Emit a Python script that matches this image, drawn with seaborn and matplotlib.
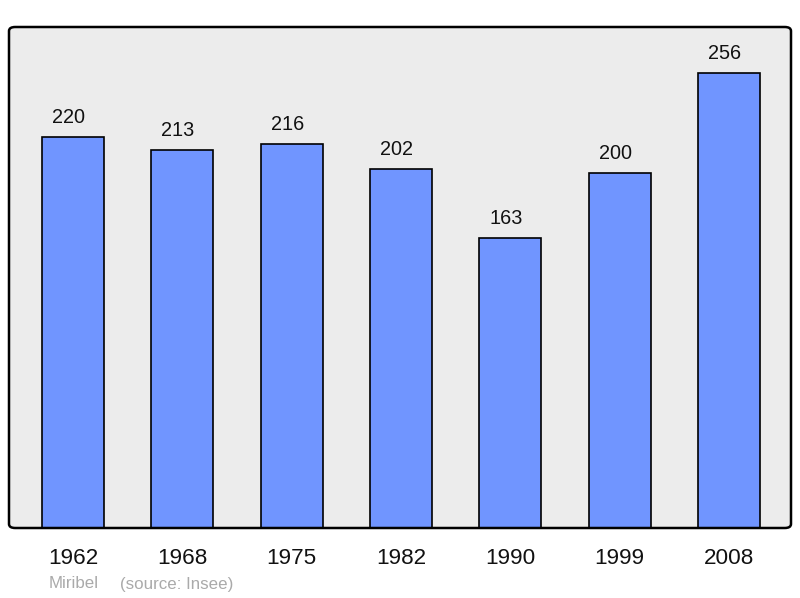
import matplotlib
matplotlib.use("Agg")
import matplotlib.pyplot as plt
import matplotlib.transforms as mtransforms
import seaborn as sns
import pandas as pd
from matplotlib.patches import FancyBboxPatch

years = ["1962", "1968", "1975", "1982", "1990", "1999", "2008"]
population = [220, 213, 216, 202, 163, 200, 256]

sns.set_style("white")
plt.rcParams['font.family'] = ['Liberation Sans', 'DejaVu Sans']

df = pd.DataFrame({"year": years, "pop": population})

fig = plt.figure(figsize=(8, 5.98), dpi=100)
ax = fig.add_axes([9/800, 70/598, 782/800, 501/598])
ax.set_facecolor("#ececec")

sns.barplot(data=df, x="year", y="pop", color="#7095ff", saturation=1,
            width=0.567, edgecolor="black", linewidth=1.2, ax=ax, zorder=2)

offset = mtransforms.ScaledTranslation(-4.5/100, 14/100, fig.dpi_scale_trans)
for i, v in enumerate(population):
    ax.text(i, v, str(v), ha="center", va="baseline", fontsize=14.3,
            color="#111111", transform=ax.transData + offset)

ax.set_xlim(-0.585, 6.567)
ax.set_ylim(0, 282)
ax.set_yticks([])
ax.set_xlabel("")
ax.set_ylabel("")
ax.tick_params(axis="x", length=0, labelsize=16.2, pad=14.5, colors="#111111")
for s in ax.spines.values():
    s.set_visible(False)

frame = FancyBboxPatch((0, 0), 1, 1, boxstyle="round,pad=0,rounding_size=0.008",
                       transform=ax.transAxes, facecolor="none", edgecolor="black",
                       linewidth=1.8, clip_on=False, zorder=5)
ax.add_patch(frame)

fig.text(49/800, 1 - 584/598, "Miribel", fontsize=12.2, color="#aaaaaa", va="center")
fig.text(120/800, 1 - 584/598, "(source: Insee)", fontsize=12.2, color="#aaaaaa", va="center")

fig.savefig("out.png", dpi=100)
